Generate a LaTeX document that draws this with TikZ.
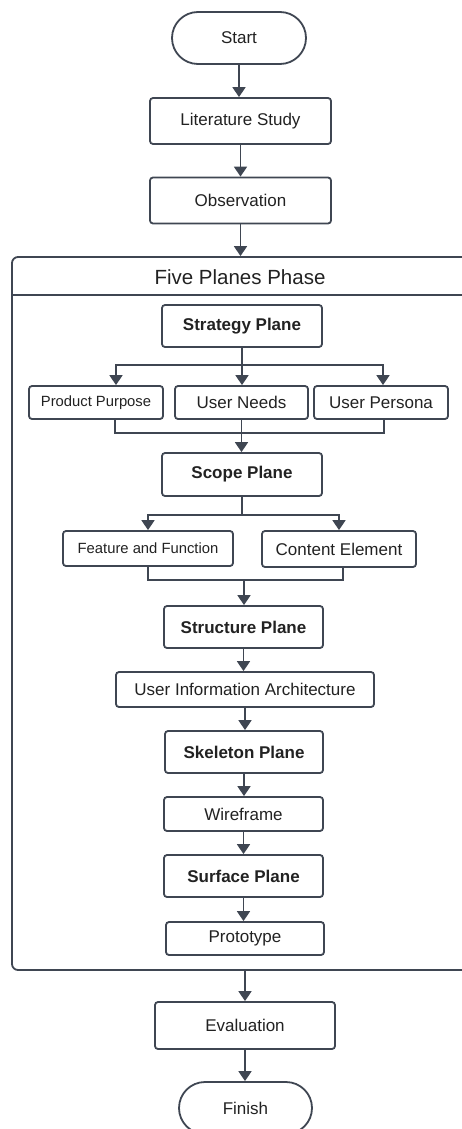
\documentclass[tikz,border=0pt]{standalone}
\usepackage{fontspec}
\setmainfont{Liberation Sans}
\usetikzlibrary{arrows.meta,positioning,calc}
\definecolor{ln}{HTML}{3F4652}
\definecolor{tx}{HTML}{222222}
\begin{document}
\begin{tikzpicture}[x=1pt,y=-1pt,
  every node/.style={text=tx,font=\fontsize{17}{20}\selectfont},
  box/.style={draw=ln,line width=1.8pt,rounded corners=3pt,fill=white,inner sep=0pt,align=center},
  term/.style={draw=ln,line width=1.8pt,rounded corners=26pt,fill=white,inner sep=0pt,minimum width=134pt,minimum height=52pt},
  bold/.style={font=\fontsize{17}{20}\selectfont\bfseries},
  small/.style={font=\fontsize{14.8}{18}\selectfont},
  conn/.style={draw=ln,line width=1.8pt},
  arr/.style={conn,-{Triangle[width=13pt,length=10pt]}}
]
\useasboundingbox (0,0) rectangle (462,1129);
% container
\node[draw=ln,line width=1.8pt,rounded corners=6pt,inner sep=0pt,minimum width=463pt,minimum height=713pt] (phase) at (243.5,613.5) {};
\coordinate (tl) at (12,295);
\coordinate (tr) at (476,295);
\draw[conn] (tl) -- (tr);
\node[font=\fontsize{20.5}{24}\selectfont] (title) at (240,277) {Five Planes Phase};

\node[term] (start) at (239,38) {Start};
\node[box,minimum width=181pt,minimum height=46pt] (lit) at (240.5,121) {Literature Study};
\node[box,minimum width=181pt,minimum height=46pt] (obs) at (240.5,200.5) {Observation};

\node[box,bold,minimum width=160pt,minimum height=42pt] (strat) at (242,326) {Strategy Plane};
\node[box,small,minimum width=134pt,minimum height=33pt] (pp) at (96,402.5) {Product Purpose};
\node[box,minimum width=133pt,minimum height=33pt] (un) at (241.5,402.5) {User Needs};
\node[box,minimum width=134pt,minimum height=33pt] (up) at (381,402.5) {User Persona};
\node[box,bold,minimum width=160pt,minimum height=43pt] (scope) at (242,474.5) {Scope Plane};
\node[box,small,minimum width=170pt,minimum height=35pt] (ff) at (148,548.5) {Feature and Function};
\node[box,minimum width=154pt,minimum height=36pt] (ce) at (339,549) {Content Element};
\node[box,bold,minimum width=159pt,minimum height=42pt] (struct) at (243.5,627) {Structure Plane};
\node[box,minimum width=258pt,minimum height=35pt] (uia) at (245,689.5) {User Information Architecture};
\node[box,bold,minimum width=158pt,minimum height=42pt] (skel) at (244,752) {Skeleton Plane};
\node[box,minimum width=159pt,minimum height=34pt] (wire) at (243.5,814) {Wireframe};
\node[box,bold,minimum width=159pt,minimum height=42pt] (surf) at (243.5,876) {Surface Plane};
\node[box,minimum width=158pt,minimum height=33pt] (proto) at (245,938.5) {Prototype};

\node[box,minimum width=180pt,minimum height=47pt] (eval) at (245,1025.5) {Evaluation};
\node[term,minimum width=133pt] (fin) at (245.5,1108) {Finish};

% connectors
\draw[arr] (start.south) -- (start.south |- lit.north);
\draw[arr] (lit.south) -- (lit.south |- obs.north);
\draw[arr] (obs.south) -- (obs.south |- phase.north);

\coordinate (b1) at (242,365);
\draw[conn] (strat.south) -- (b1);
\draw[arr] (b1) -| ([xshift=20]pp.north);
\draw[arr] (b1) -- (b1 |- un.north);
\draw[arr] (b1) -| ([xshift=2]up.north);

\coordinate (m1) at (241.5,433);
\draw[conn] ([xshift=19]pp.south) |- (m1) -| ([xshift=3]up.south);
\draw[arr] (un.south) -- (un.south |- scope.north);

\coordinate (b2) at (242,515);
\draw[conn] (scope.south) -- (b2);
\draw[arr] (b2) -| (ff.north);
\draw[arr] (b2) -| (ce.north);

\coordinate (m2) at (244,580);
\draw[conn] (ff.south) |- (m2) -| ([xshift=4]ce.south);
\draw[arr] (m2) -- (m2 |- struct.north);

\draw[arr] (struct.south) -- (struct.south |- uia.north);
\draw[arr] (uia.south) -- (uia.south |- skel.north);
\draw[arr] (skel.south) -- (skel.south |- wire.north);
\draw[arr] (wire.south) -- (wire.south |- surf.north);
\draw[arr] (surf.south) -- (surf.south |- proto.north);

\draw[arr] (eval.north |- phase.south) -- (eval.north);
\draw[arr] (eval.south) -- (eval.south |- fin.north);
\end{tikzpicture}
\end{document}
